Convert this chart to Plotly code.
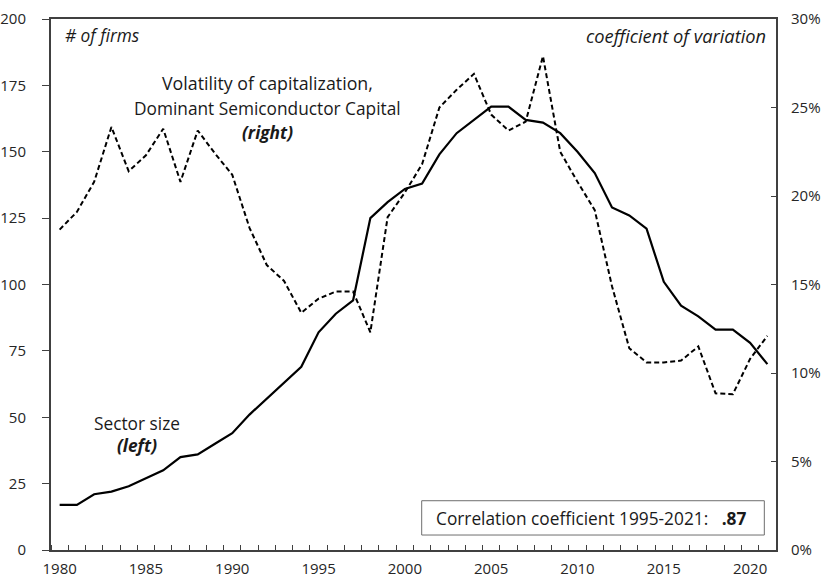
import plotly.graph_objects as go

years = list(range(1980, 2022))

# number of firms (left axis)
sector_size = [17, 17, 21, 22, 24, 27, 30, 35, 36, 40,
               44, 51, 57, 63, 69, 82, 89, 94, 125, 131,
               136, 138, 149, 157, 162, 167, 167, 162, 161, 157,
               150, 142, 129, 126, 121, 101, 92, 88, 83, 83,
               78, 70]

# coefficient of variation, % (right axis)
volatility = [18.1, 19.1, 20.8, 23.9, 21.4, 22.3, 23.8, 20.8, 23.7, 22.4,
              21.2, 18.2, 16.1, 15.2, 13.4, 14.2, 14.6, 14.6, 12.3, 18.8,
              20.2, 21.8, 25.0, 26.0, 26.9, 24.6, 23.7, 24.2, 27.9, 22.5,
              20.8, 19.2, 14.9, 11.4, 10.6, 10.6, 10.7, 11.5, 8.85, 8.8,
              10.8, 12.1]

left_ticks = [0, 25, 50, 75, 100, 125, 150, 175, 200]
right_ticks = [0, 5, 10, 15, 20, 25, 30]
right_labels = [f"{v}%" for v in right_ticks]
year_labels = [1980, 1985, 1990, 1995, 2000, 2005, 2010, 2015, 2020]

FONT = "Open Sans"
AXIS = "#404040"

fig = go.Figure()

fig.add_trace(go.Scatter(x=years, y=volatility, yaxis="y2", mode="lines",
                         line=dict(color="black", width=2, dash="5px,3px")))
fig.add_trace(go.Scatter(x=years, y=sector_size, mode="lines",
                         line=dict(color="black", width=2.2)))

fig.update_layout(
  width=822, height=578,
  margin=dict(l=51, r=46, t=19, b=28),
  paper_bgcolor="white", plot_bgcolor="white",
  showlegend=False,
  font=dict(family=FONT, size=15, color="#262626"),
  xaxis=dict(range=[1979.5, 2021.5], tickvals=year_labels, ticks="", showgrid=False,
             zeroline=False, showline=True, linecolor=AXIS, linewidth=2, mirror=True,
             ticklabelstandoff=4, automargin=False,
             minor=dict(tick0=1979.5, dtick=1, ticks="inside", ticklen=5,
                        tickcolor=AXIS, tickwidth=1.3, showgrid=False)),
  yaxis=dict(range=[0, 200], tickvals=left_ticks, ticks="outside", ticklen=7,
             tickcolor=AXIS, tickwidth=1.3, showgrid=False, zeroline=False,
             showline=True, linecolor=AXIS, linewidth=2, ticklabelstandoff=13,
             automargin=False, ticklabeloverflow="allow"),
  yaxis2=dict(range=[0, 30], tickvals=right_ticks, ticktext=right_labels,
              overlaying="y", side="right", ticks="inside", ticklen=5,
              tickcolor=AXIS, tickwidth=1.3, showgrid=False, zeroline=False,
              showline=True, linecolor=AXIS, linewidth=2, ticklabelstandoff=10,
              automargin=False, ticklabeloverflow="allow"),
)

def note(text, x, y, anchor="center", size=17.3):
  fig.add_annotation(text=text, x=x, y=y, xref="paper", yref="paper",
                     xanchor=anchor, yanchor="middle", showarrow=False,
                     font=dict(family=FONT, size=size, color="#1a1a1a"))

note("<i># of firms</i>", 0.0166, 0.968, "left")
note("<i>coefficient of variation</i>", 0.9886, 0.968, "right", size=18.3)
note("Volatility of capitalization,", 0.2993, 0.880, size=17.8)
note("Dominant Semiconductor Capital", 0.2993, 0.831)
note("<b><i>(right)</i></b>", 0.2993, 0.787)
note("Sector size", 0.1193, 0.239)
note("<b><i>(left)</i></b>", 0.1193, 0.196)

fig.add_shape(type="rect", xref="paper", yref="paper",
              x0=0.5113, x1=0.9839, y0=0.0282, y1=0.0928,
              line=dict(color="#6e6e6e", width=1), fillcolor="white")
note("Correlation coefficient 1995-2021:&nbsp;&nbsp;&nbsp;<b>.87</b>", 0.745, 0.0584)

# drop the page's default body margin so the figure fills the window exactly
fig.write_html("out.html", config={"displayModeBar": False},
               post_script="document.body.style.margin = '0';")
